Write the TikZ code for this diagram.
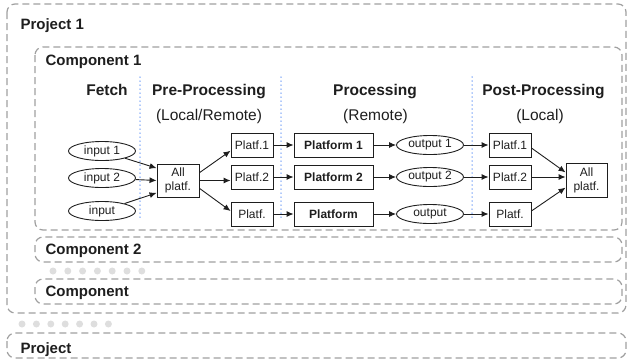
\documentclass[tikz,border=0pt]{standalone}
\usepackage{fontspec}
\setmainfont{Liberation Sans}
\usetikzlibrary{arrows.meta, shapes.geometric}

\definecolor{dashgray}{RGB}{160,160,160}
\definecolor{lineblue}{RGB}{95,145,245}
\definecolor{ink}{RGB}{30,30,30}
\definecolor{dotgray}{RGB}{222,222,222}

\begin{document}
\begin{tikzpicture}
        [x=1pt, y=-1pt,
         group/.style={
             draw=dashgray,
             line width=1.2pt,
             dash pattern=on 7pt off 4pt,
             rounded corners=8pt
         },
         title/.style={
             anchor=base west,
             text=ink,
             font=\fontsize{15}{18}\selectfont\bfseries
         },
         head/.style={
             anchor=base,
             text=ink,
             font=\fontsize{15.5}{18}\selectfont
         },
         stage/.style={
             draw=ink,
             line width=0.9pt,
             text=ink,
             inner sep=0pt,
             minimum width=42pt,
             minimum height=24pt,
             align=center,
             font=\fontsize{12}{14}\selectfont
         },
         file/.style={
             stage,
             ellipse,
             minimum width=67pt,
             minimum height=19pt
         },
         link/.style={
             draw=ink,
             line width=0.9pt,
             -{Latex[length=7pt,width=6pt]}
         },
         divider/.style={fill=lineblue},
         more/.style={fill=dotgray}
         ]
        \useasboundingbox (0,0) rectangle (628,360);

        % projects and components
        \draw[group] (7,4) rectangle (626,313);
        \draw[group] (35,47) rectangle (622,230);
        \draw[group] (35,237) rectangle (622,262);
        \draw[group] (35,279) rectangle (622,304);
        \draw[group] (7,333) rectangle (626,358);

        \node[title] (proj1) at (17,29) {Project 1};
        \node[title] (comp1) at (42,65) {Component 1};
        \node[title] (comp2) at (42,254) {Component 2};
        \node[title] (comp) at (42,296) {Component};
        \node[title] (proj) at (17,353) {Project};

        \foreach \i in {0,...,6} {
            \fill[more] (53+14.8*\i,271) circle (3.5pt);
            \fill[more] (22+14.4*\i,324) circle (3.5pt);
        }

        % stage headings
        \node[head, font=\fontsize{15.5}{18}\selectfont\bfseries] (fetch) at (107,95) {Fetch};
        \node[head, font=\fontsize{15.5}{18}\selectfont\bfseries] (prehd) at (209,95) {Pre-Processing};
        \node[head, font=\fontsize{15.5}{18}\selectfont\bfseries] (prochd) at (375,95) {Processing};
        \node[head, font=\fontsize{15.5}{18}\selectfont\bfseries] (posthd) at (543.5,95) {Post-Processing};
        \node[head] (presub) at (209,120) {(Local/Remote)};
        \node[head] (procsub) at (375.5,120) {(Remote)};
        \node[head] (postsub) at (540,120) {(Local)};

        % dotted stage dividers
        \foreach \x in {140,281,472}
            \foreach \y in {77,81,...,217}
                \fill[divider] (\x,\y) circle (0.75pt);

        % fetch
        \node[file] (in1) at (102,151) {input 1};
        \node[file] (in2) at (102,178) {input 2};
        \node[file] (in3) at (102,211) {input};

        % pre-processing
        \node[stage, minimum height=33pt] (all) at (178,180.5) {All\\platf.};
        \node[stage] (pre1) at (252,145) {Platf.1};
        \node[stage] (pre2) at (252,177) {Platf.2};
        \node[stage] (pre3) at (252,214) {Platf.};

        % processing
        \node[stage, minimum width=79pt, font=\fontsize{12}{14}\selectfont\bfseries] (plat1) at (333.5,145) {Platform 1};
        \node[stage, minimum width=79pt, font=\fontsize{12}{14}\selectfont\bfseries] (plat2) at (333.5,177) {Platform 2};
        \node[stage, minimum width=79pt, font=\fontsize{12}{14}\selectfont\bfseries] (plat3) at (333.5,214) {Platform};
        \node[file] (out1) at (430,145) {output 1};
        \node[file] (out2) at (430,177) {output 2};
        \node[file] (out3) at (430,214) {output};

        % post-processing
        \node[stage] (post1) at (510,145) {Platf.1};
        \node[stage] (post2) at (510,177) {Platf.2};
        \node[stage] (post3) at (510,214) {Platf.};
        \node[stage, minimum width=41pt, minimum height=34pt] (allr) at (586.5,180) {All\\platf.};

        \draw[link] (in1) -- (all.150);
        \draw[link] (in2) -- (all.west);
        \draw[link] (in3) -- (all.210);

        \draw[link] (all.20) -- (pre1.195);
        \draw[link] (all.east) -- (all.east -| pre2.west);
        \draw[link] (all.-20) -- (pre3.172);

        \draw[link] (pre1) -- (plat1);
        \draw[link] (pre2) -- (plat2);
        \draw[link] (pre3) -- (plat3);
        \draw[link] (plat1) -- (out1);
        \draw[link] (plat2) -- (out2);
        \draw[link] (plat3) -- (out3);
        \draw[link] (out1) -- (post1);
        \draw[link] (out2) -- (post2);
        \draw[link] (out3) -- (post3);

        \draw[link] (post1.-8) -- (allr.160);
        \draw[link] (post2.east) -- (post2.east -| allr.west);
        \draw[link] (post3.8) -- (allr.200);
\end{tikzpicture}
\end{document}
